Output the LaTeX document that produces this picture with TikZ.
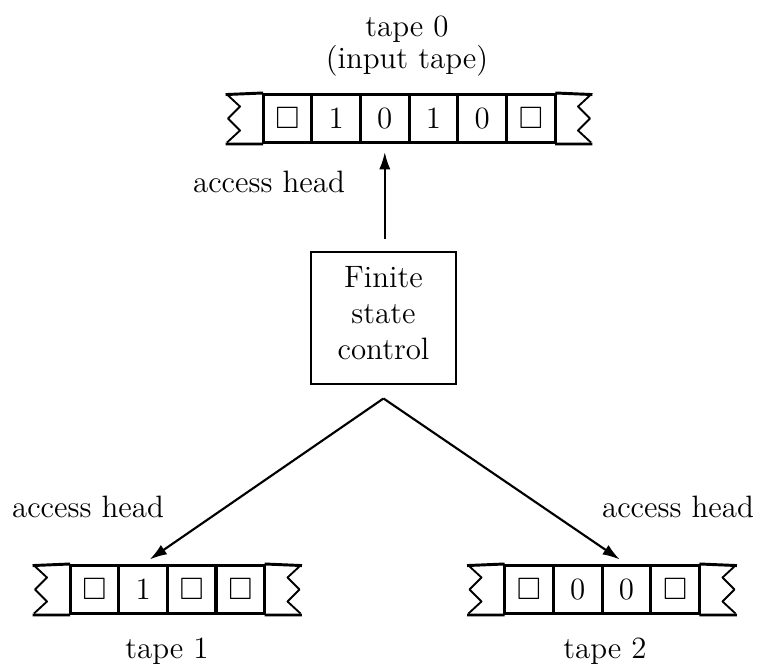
\documentclass[tikz,border=0pt]{standalone}
\usepackage{amssymb}
\usetikzlibrary{arrows.meta}
\newcommand\tblank{$\square$}
\begin{document}
\begin{tikzpicture}[x=0.375pt,y=-0.375pt,
  every node/.style={font=\fontsize{11.6}{13.5}\selectfont},
  cell/.style={draw, line width=1.1pt, minimum width=18.26pt, minimum height=18pt, inner sep=0pt},
  tapeline/.style={line width=1.1pt, line cap=rect},
  zig/.style={line width=0.7pt, line join=round},
  ctrlbox/.style={draw, line width=1.05pt, minimum width=54.4pt, minimum height=49.5pt, inner sep=0pt},
  head/.style={-{Latex[length=6.5pt,width=4.2pt]}, line width=0.8pt},
  lbl/.style={anchor=base, inner sep=0pt}
]
\useasboundingbox (0,0) rectangle (758,669);

% tape 0
\foreach \s [count=\i] in {\tblank,1,0,1,0,\tblank}
  \node[cell] (a\i) at ({287.4+48.7*(\i-1)},118.5) {\s};
\coordinate (al) at (227,94.5);
\coordinate (ar) at (591,94.5);
\draw[zig] (al) -- ++(13,12) -- ++(-12,12) -- ++(12,12) -- ++(-13,12);
\draw[zig] (ar) -- ++(-13,12) -- ++(12,12) -- ++(-12,12) -- ++(13,12);
\draw[tapeline] (al) -- (a1.north west) (al |- a1.south) -- (a1.south west);
\draw[tapeline] (ar) -- (a6.north east) (ar |- a6.south) -- (a6.south east);

% tape 1
\foreach \s [count=\i] in {\tblank,1,\tblank,\tblank}
  \node[cell] (b\i) at ({94.5+48.6*(\i-1)},589.5) {\s};
\coordinate (bl) at (34,565.5);
\coordinate (br) at (300.5,565.5);
\draw[zig] (bl) -- ++(13,12) -- ++(-12,12) -- ++(12,12) -- ++(-13,12);
\draw[zig] (br) -- ++(-13,12) -- ++(12,12) -- ++(-12,12) -- ++(13,12);
\draw[tapeline] (bl) -- (b1.north west) (bl |- b1.south) -- (b1.south west);
\draw[tapeline] (br) -- (b4.north east) (br |- b4.south) -- (b4.south east);

% tape 2
\foreach \s [count=\i] in {\tblank,0,0,\tblank}
  \node[cell] (c\i) at ({529+48.7*(\i-1)},589.5) {\s};
\coordinate (cl) at (468.5,565.5);
\coordinate (cr) at (735.5,565.5);
\draw[zig] (cl) -- ++(13,12) -- ++(-12,12) -- ++(12,12) -- ++(-13,12);
\draw[zig] (cr) -- ++(-13,12) -- ++(12,12) -- ++(-12,12) -- ++(13,12);
\draw[tapeline] (cl) -- (c1.north west) (cl |- c1.south) -- (c1.south west);
\draw[tapeline] (cr) -- (c4.north east) (cr |- c4.south) -- (c4.south east);

% finite state control
\node[ctrlbox] (fsc) at (383.5,318) {};
\node[align=center, inner sep=0pt] (fsctext) at (383.5,313) {Finite\\state\\control};

% access heads
\draw[head, shorten <=4.5pt, shorten >=3pt] (a3 |- fsc.north) -- (a3.south);
\coordinate (apex) at ([yshift=-4.9pt]fsc.south);
\draw[head, shorten >=3pt] (apex) -- (b2.north);
\draw[head, shorten >=3pt] (apex) -- (c3.north);

% labels
\node[lbl] (t0a) at (407,36) {tape 0};
\node[lbl] (t0b) at (407,68) {(input tape)};
\node[lbl] (h0) at (269,192) {access head};
\node[lbl] (h1) at (88,517) {access head};
\node[lbl] (h2) at (678,517) {access head};
\node[lbl] (t1) at (167,658) {tape 1};
\node[lbl] (t2) at (605,658) {tape 2};
\end{tikzpicture}
\end{document}
